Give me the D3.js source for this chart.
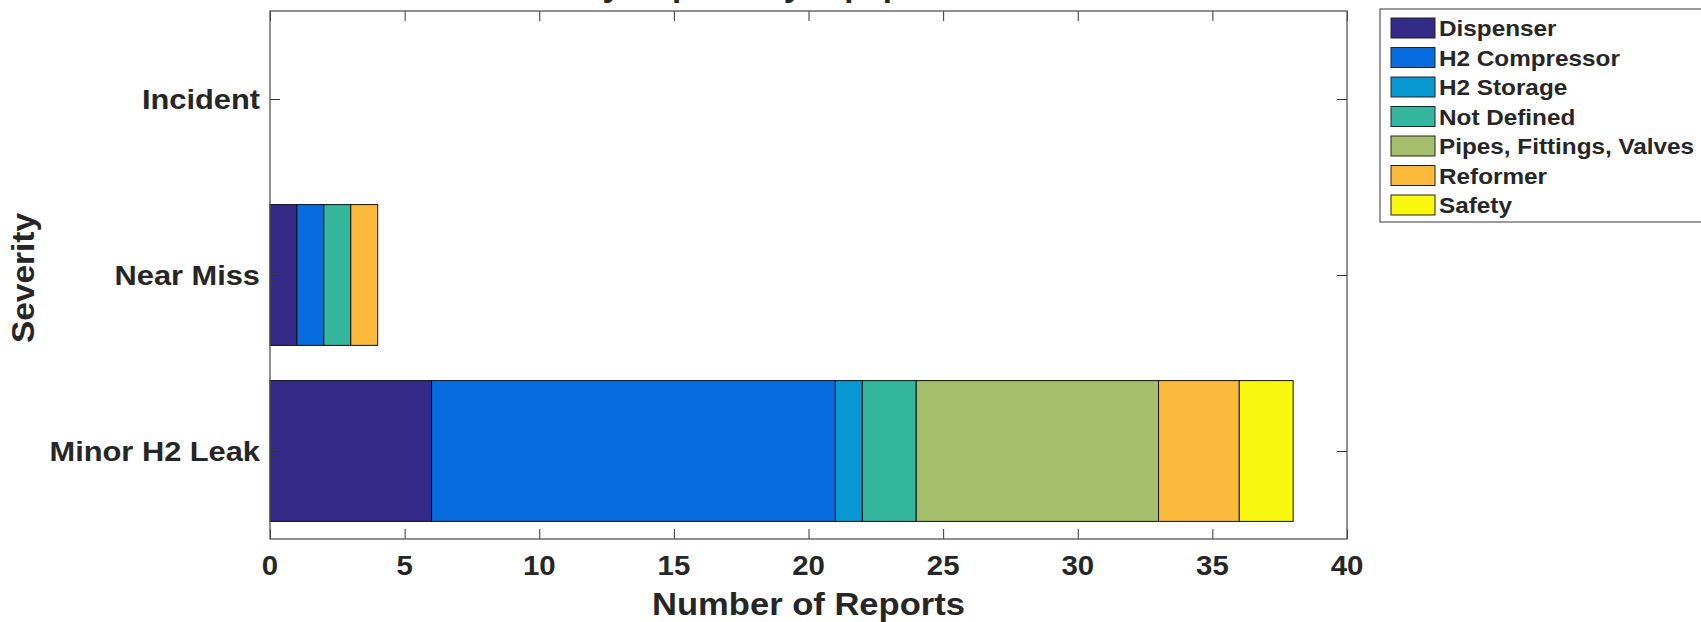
<!DOCTYPE html>
<html>
<head>
<meta charset="utf-8">
<script src="https://cdn.jsdelivr.net/npm/d3@7"></script>
<style>
  html, body { margin: 0; padding: 0; background: #ffffff; }
  svg { display: block; }
  text { font-family: "Liberation Sans", Arial, Helvetica, sans-serif; font-weight: bold; fill: #262626; }
</style>
</head>
<body>
<script>
// Severity categories, bottom to top
const categories = ["Minor H2 Leak", "Near Miss", "Incident"];

// Equipment groups, in stacking order
const components = ["Dispenser", "H2 Compressor", "H2 Storage", "Not Defined",
                    "Pipes, Fittings, Valves", "Reformer", "Safety"];

// Report counts per severity (Minor H2 Leak, Near Miss, Incident)
const dispenser           = [6, 1, 0];
const h2Compressor        = [15, 1, 0];
const h2Storage           = [1, 0, 0];
const notDefined          = [2, 1, 0];
const pipesFittingsValves = [9, 0, 0];
const reformer            = [3, 1, 0];
const safety              = [2, 0, 0];

const xTicks = [0, 5, 10, 15, 20, 25, 30, 35, 40];
const colors = ["#352a87", "#066ce0", "#0898d1", "#35b79f", "#a5be6b", "#fcba3c", "#f7f80e"];

const W = 1701, H = 622;
const plot = { left: 270, right: 1347, top: 11, bottom: 539 };

const svg = d3.select("body").append("svg").attr("width", W).attr("height", H);

const x = d3.scaleLinear().domain([0, 40]).range([plot.left, plot.right]);
const y = d3.scaleBand()
  .domain(categories.slice().reverse())
  .range([plot.top, plot.bottom])
  .paddingInner(0.2)
  .paddingOuter(0.1);

// Build the stacked table from the series arrays
const seriesValues = [dispenser, h2Compressor, h2Storage, notDefined, pipesFittingsValves, reformer, safety];
const table = categories.map((c, i) => {
  const row = { category: c };
  components.forEach((k, j) => row[k] = seriesValues[j][i]);
  return row;
});
const stacked = d3.stack().keys(components)(table);
const color = d3.scaleOrdinal().domain(components).range(colors);

// Horizontally widened text at (px, py)
function label(sel, px, py, str, size, anchor, rot, sx) {
  const g = sel.append("g").attr("transform",
    `translate(${px},${py})` + (rot ? ` rotate(${rot})` : "") + ` scale(${sx || 1.1},1)`);
  g.append("text")
    .attr("text-anchor", anchor)
    .attr("font-size", size)
    .text(str);
  return g;
}

// Title (sits mostly above the visible area)
label(svg, (plot.left + plot.right) / 2, -3, "Severity Reports by Equipment Involved", 30, "middle");

// Stacked bars
svg.append("g").selectAll("g")
  .data(stacked)
  .join("g")
  .attr("fill", d => color(d.key))
  .selectAll("rect")
  .data(d => d.filter(s => s[1] - s[0] > 0))
  .join("rect")
  .attr("x", d => x(d[0]))
  .attr("width", d => x(d[1]) - x(d[0]))
  .attr("y", d => y(d.data.category))
  .attr("height", y.bandwidth())
  .attr("stroke", "#111")
  .attr("stroke-width", 1);

// Axes: inward ticks on all four sides, labels only bottom/left
const tickLen = 10;
const axisColor = "#555";

const bottomAxis = svg.append("g")
  .attr("transform", `translate(0,${plot.bottom})`)
  .call(d3.axisBottom(x).tickValues(xTicks).tickSize(-tickLen).tickFormat(""));
const topAxis = svg.append("g")
  .attr("transform", `translate(0,${plot.top})`)
  .call(d3.axisTop(x).tickValues(xTicks).tickSize(-tickLen).tickFormat(""));
const yCenter = c => y(c) + y.bandwidth() / 2;
const yTickScale = d3.scaleOrdinal().domain(categories).range(categories.map(yCenter));
const leftAxis = svg.append("g")
  .attr("transform", `translate(${plot.left},0)`)
  .call(d3.axisLeft(yTickScale).tickSize(-tickLen).tickFormat(""));
const rightAxis = svg.append("g")
  .attr("transform", `translate(${plot.right},0)`)
  .call(d3.axisRight(yTickScale).tickSize(-tickLen).tickFormat(""));
[bottomAxis, topAxis, leftAxis, rightAxis].forEach(a => {
  a.select(".domain").remove();
  a.selectAll(".tick line").attr("stroke", "#333").attr("stroke-width", 1);
});

// Axes box
svg.append("rect")
  .attr("x", plot.left).attr("y", plot.top)
  .attr("width", plot.right - plot.left).attr("height", plot.bottom - plot.top)
  .attr("fill", "none").attr("stroke", axisColor).attr("stroke-width", 1.3);

// Tick labels
xTicks.forEach(t => label(svg, x(t), plot.bottom + 36, String(t), 28, "middle", 0, 1.05));
categories.forEach(c => label(svg, plot.left - 10, yCenter(c) + 10, c, 28, "end"));

// Axis titles
label(svg, (plot.left + plot.right) / 2, 615, "Number of Reports", 32, "middle", 0, 1.08);
label(svg, 34, (plot.top + plot.bottom) / 2 + 3, "Severity", 31, "middle", -90, 1.08);

// Legend
const legend = { x: 1380, y: 9, w: 340, row: 29.5 };
svg.append("rect")
  .attr("x", legend.x).attr("y", legend.y)
  .attr("width", legend.w).attr("height", 213)
  .attr("fill", "#fff").attr("stroke", "#666").attr("stroke-width", 1.3);
components.forEach((k, i) => {
  const cy = legend.y + 19 + i * legend.row;
  svg.append("rect")
    .attr("x", legend.x + 11).attr("y", cy - 10)
    .attr("width", 44).attr("height", 20)
    .attr("fill", color(k)).attr("stroke", "#222").attr("stroke-width", 1);
  label(svg, legend.x + 59, cy + 8, k, 22.5, "start", 0, 1.08);
});
</script>
</body>
</html>
